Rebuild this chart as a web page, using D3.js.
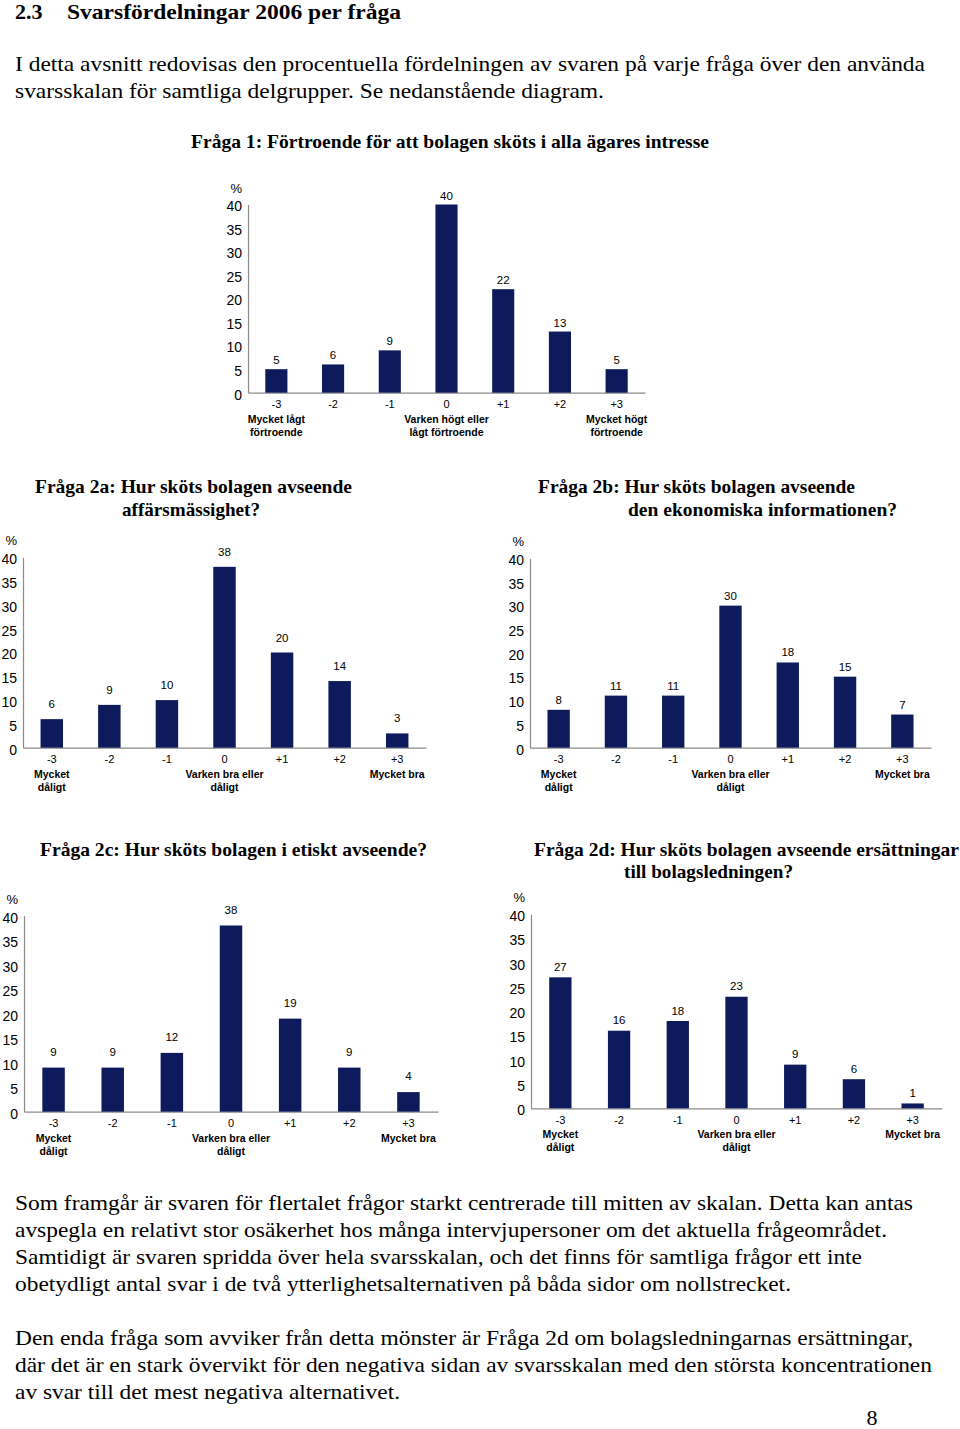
<!DOCTYPE html>
<html>
<head>
<meta charset="utf-8">
<script src="https://cdn.jsdelivr.net/npm/d3@7"></script>
<style>
html,body{margin:0;padding:0;background:#fff;}
svg{display:block;}
.serif{font-family:"Liberation Serif","Times New Roman",serif;fill:#000;}
.sans{font-family:"Liberation Sans",Arial,Helvetica,sans-serif;fill:#000;}
</style>
</head>
<body>
<script>
// ---------- DATA ----------
const categories = ["-3", "-2", "-1", "0", "+1", "+2", "+3"];
const yTicks = [0, 5, 10, 15, 20, 25, 30, 35, 40];
const q1Values  = [5, 6, 9, 40, 22, 13, 5];
const q2aValues = [6, 9, 10, 38, 20, 14, 3];
const q2bValues = [8, 11, 11, 30, 18, 15, 7];
const q2cValues = [9, 9, 12, 38, 19, 9, 4];
const q2dValues = [27, 16, 18, 23, 9, 6, 1];

const q1SubLabels = {"-3": ["Mycket lågt", "förtroende"], "0": ["Varken högt eller", "lågt förtroende"], "+3": ["Mycket högt", "förtroende"]};
const q2SubLabels = {"-3": ["Mycket", "dåligt"], "0": ["Varken bra eller", "dåligt"], "+3": ["Mycket bra"]};

const q1Title  = ["Fråga 1: Förtroende för att bolagen sköts i alla ägares intresse"];
const q2aTitle = ["Fråga 2a: Hur sköts bolagen avseende", "affärsmässighet?"];
const q2bTitle = ["Fråga 2b: Hur sköts bolagen avseende", "den ekonomiska informationen?"];
const q2cTitle = ["Fråga 2c: Hur sköts bolagen i etiskt avseende?"];
const q2dTitle = ["Fråga 2d: Hur sköts bolagen avseende ersättningar", "till bolagsledningen?"];

const headingNum = "2.3";
const headingText = "Svarsfördelningar 2006 per fråga";
const introLines = [
  "I detta avsnitt redovisas den procentuella fördelningen av svaren på varje fråga över den använda",
  "svarsskalan för samtliga delgrupper. Se nedanstående diagram."
];
const bodyLines1 = [
  "Som framgår är svaren för flertalet frågor starkt centrerade till mitten av skalan. Detta kan antas",
  "avspegla en relativt stor osäkerhet hos många intervjupersoner om det aktuella frågeområdet.",
  "Samtidigt är svaren spridda över hela svarsskalan, och det finns för samtliga frågor ett inte",
  "obetydligt antal svar i de två ytterlighetsalternativen på båda sidor om nollstrecket."
];
const bodyLines2 = [
  "Den enda fråga som avviker från detta mönster är Fråga 2d om bolagsledningarnas ersättningar,",
  "där det är en stark övervikt för den negativa sidan av svarsskalan med den största koncentrationen",
  "av svar till det mest negativa alternativet."
];
const pageNumber = "8";

// ---------- DRAW ----------
const W = 960, H = 1429;
const svg = d3.select("body").append("svg").attr("width", W).attr("height", H);
svg.append("rect").attr("width", W).attr("height", H).attr("fill", "#fff");

const BAR = "#0d1b5c";
const AXIS = "#8a8a8a";

function textLine(x, y, str, opts) {
  const t = svg.append("text")
    .attr("class", opts.cls || "serif")
    .attr("x", x).attr("y", y)
    .attr("font-size", opts.size)
    .attr("font-weight", opts.bold ? "bold" : "normal")
    .attr("text-anchor", opts.anchor || "start")
    .text(str);
  if (opts.len) t.attr("textLength", opts.len).attr("lengthAdjust", "spacingAndGlyphs");
  return t;
}

// heading & intro
textLine(15, 19, headingNum, {size: 22, bold: true});
textLine(67, 19, headingText, {size: 22, bold: true, len: 334});
textLine(15, 71, introLines[0], {size: 22, len: 910});
textLine(15, 98, introLines[1], {size: 22, len: 589});

// body
const body1W = [898, 872, 847, 776];
bodyLines1.forEach((s, i) => textLine(15, 1210 + i * 27, s, {size: 22, len: body1W[i]}));
const body2W = [898, 917, 385];
bodyLines2.forEach((s, i) => textLine(15, 1345 + i * 27, s, {size: 22, len: body2W[i]}));
textLine(872, 1425, pageNumber, {size: 22, anchor: "middle"});

function panel(cfg) {
  const g = svg.append("g");
  const x = d3.scaleBand().domain(categories).range([cfg.x0, cfg.x1])
    .paddingInner(cfg.pad).paddingOuter(cfg.pad / 2);
  const y = d3.scaleLinear().domain([0, 40]).range([cfg.y0, cfg.y40]);

  // titles
  cfg.title.forEach((s, i) => {
    const t = g.append("text").attr("class", "serif")
      .attr("x", cfg.titleX[i]).attr("y", cfg.titleY[i])
      .attr("font-size", 19).attr("font-weight", "bold")
      .text(s);
    if (cfg.titleW) t.attr("textLength", cfg.titleW[i]).attr("lengthAdjust", "spacingAndGlyphs");
  });

  // y axis
  const yAxis = d3.axisLeft(y).tickValues(yTicks).tickSize(0).tickPadding(6);
  const ya = g.append("g").attr("transform", `translate(${cfg.x0},0)`).call(yAxis);
  ya.select(".domain").attr("stroke", AXIS).attr("stroke-width", 1.2);
  ya.selectAll("text").attr("font-family", "Liberation Sans, Arial, sans-serif")
    .attr("font-size", 14).attr("fill", "#000").attr("dy", "0.45em");
  g.append("text").attr("class", "sans").attr("x", cfg.x0 - 6).attr("y", y(40) - 12)
    .attr("text-anchor", "end").attr("font-size", 13).text("%");

  // x axis
  const xAxis = d3.axisBottom(x).tickSize(0).tickPadding(8);
  const xa = g.append("g").attr("transform", `translate(0,${cfg.y0})`).call(xAxis);
  xa.select(".domain").attr("stroke", AXIS).attr("stroke-width", 1.2);
  xa.selectAll("text").attr("font-family", "Liberation Sans, Arial, sans-serif")
    .attr("font-size", 11).attr("fill", "#000");

  // sub labels
  categories.forEach(c => {
    const lines = cfg.sub[c];
    if (!lines) return;
    lines.forEach((s, i) => {
      g.append("text").attr("class", "sans")
        .attr("x", x(c) + x.bandwidth() / 2).attr("y", cfg.y0 + 30 + i * 13)
        .attr("text-anchor", "middle").attr("font-size", 10.5).attr("font-weight", "bold")
        .text(s);
    });
  });

  // bars
  g.selectAll("rect.bar").data(cfg.values).join("rect").attr("class", "bar")
    .attr("x", (d, i) => x(categories[i]))
    .attr("width", x.bandwidth())
    .attr("y", d => y(d))
    .attr("height", d => y(0) - y(d))
    .attr("fill", BAR);

  // value labels
  g.selectAll("text.val").data(cfg.values).join("text").attr("class", "val sans")
    .attr("x", (d, i) => x(categories[i]) + x.bandwidth() / 2)
    .attr("y", d => y(d) - cfg.labelGap)
    .attr("text-anchor", "middle").attr("font-size", 11.5)
    .text(d => d);
}

panel({values: q1Values, x0: 248, x1: 645, y0: 392.7, y40: 204.5, pad: 0.61, labelGap: 5,
  title: q1Title, titleX: [191], titleY: [148], titleW: [518], sub: q1SubLabels});
panel({values: q2aValues, x0: 23, x1: 426, y0: 747.7, y40: 557.3, pad: 0.61, labelGap: 11,
  title: q2aTitle, titleX: [35, 122], titleY: [493, 516], titleW: [317, 138], sub: q2SubLabels});
panel({values: q2bValues, x0: 530, x1: 931, y0: 747.7, y40: 558.3, pad: 0.61, labelGap: 6,
  title: q2bTitle, titleX: [538, 628], titleY: [493, 516], titleW: [317, 269], sub: q2SubLabels});
panel({values: q2cValues, x0: 24, x1: 438, y0: 1111.7, y40: 915.7, pad: 0.62, labelGap: 12,
  title: q2cTitle, titleX: [40], titleY: [856], titleW: [387], sub: q2SubLabels});
panel({values: q2dValues, x0: 531, x1: 942, y0: 1108.3, y40: 914.3, pad: 0.62, labelGap: 6.5,
  title: q2dTitle, titleX: [534, 624], titleY: [856, 878], titleW: [425, 169], sub: q2SubLabels});
</script>
</body>
</html>
